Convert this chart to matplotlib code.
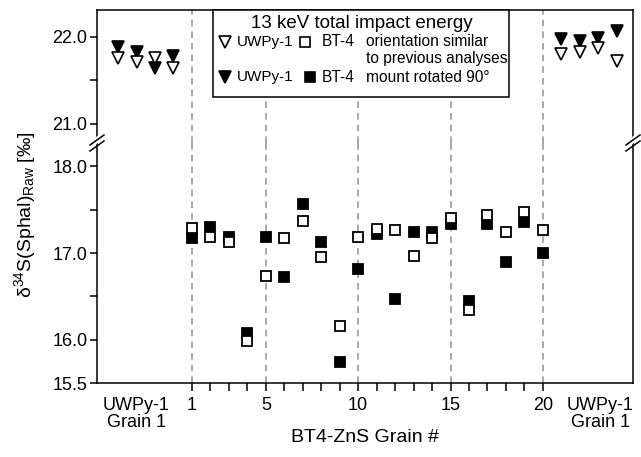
import matplotlib
matplotlib.use("Agg")
import matplotlib.pyplot as plt
from matplotlib.patches import Rectangle
from matplotlib.lines import Line2D

plt.rcParams['font.family'] = ['Liberation Sans', 'DejaVu Sans']
plt.rcParams['mathtext.fontset'] = 'custom'
plt.rcParams['mathtext.rm'] = 'Liberation Sans'
plt.rcParams['mathtext.it'] = 'Liberation Sans:italic'

# BT-4 sphalerite grains 1-20
grains = list(range(1, 21))
bt4_open = [17.29, 17.18, 17.13, 15.99, 16.73, 17.17, 17.37, 16.96, 16.16, 17.19,
            17.28, 17.27, 16.97, 17.17, 17.40, 16.34, 17.44, 17.24, 17.47, 17.27]
bt4_filled = [17.17, 17.30, 17.19, 16.08, 17.18, 16.72, 17.57, 17.13, 15.74, 16.81,
              17.22, 16.47, 17.24, 17.24, 17.34, 16.45, 17.33, 16.90, 17.36, 17.00]

# UWPy-1 grain 1 bracketing analyses
uwpy_x_left = [-3, -2, -1, 0]
uwpy_x_right = [21, 22, 23, 24]
uwpy_open_left = [21.76, 21.71, 21.76, 21.64]
uwpy_filled_left = [21.88, 21.82, 21.64, 21.78]
uwpy_open_right = [21.80, 21.82, 21.87, 21.72]
uwpy_filled_right = [21.98, 21.95, 21.99, 22.07]

divider_x = [1, 5, 10, 15, 20]
xtick_labels = ['1', '5', '10', '15', '20']

W, H = 641, 457
fig = plt.figure(figsize=(W / 100, H / 100), dpi=100)


def fx(x):
    return x / W


def fy(y):
    return 1 - y / H


L, R, T, B, BRK = 97, 633, 10, 383, 143
ax_top = fig.add_axes([fx(L), fy(BRK), fx(R) - fx(L), fy(T) - fy(BRK)])
ax_bot = fig.add_axes([fx(L), fy(B), fx(R) - fx(L), fy(BRK) - fy(B)])

xlim = (-4.14, 24.88)
for ax in (ax_top, ax_bot):
    ax.set_xlim(*xlim)
    for x in divider_x:
        ax.axvline(x, color='#9a9a9a', lw=1.2, ls=(0, (4, 3)), zorder=1)
    for s in ax.spines.values():
        s.set_linewidth(1.1)
    ax.tick_params(axis='y', direction='out', length=5, width=1.1, labelsize=13, pad=2)

ax_top.set_ylim(20.775, 22.31)
ax_bot.set_ylim(15.5, 18.27)
ax_top.spines['bottom'].set_visible(False)
ax_bot.spines['top'].set_visible(False)
ax_top.tick_params(axis='x', bottom=False, labelbottom=False)

ax_top.set_yticks([21.0, 21.5, 22.0])
ax_top.set_yticklabels(['21.0', '', '22.0'])
ax_bot.set_yticks([15.5, 16.0, 16.5, 17.0, 17.5, 18.0])
ax_bot.set_yticklabels(['15.5', '16.0', '', '17.0', '', '18.0'])

ax_bot.set_xticks(grains)
ax_bot.set_xticklabels([str(g) if str(g) in xtick_labels else '' for g in grains])
ax_bot.tick_params(axis='x', direction='out', length=6, width=1.1, labelsize=13, pad=4)

sq = dict(marker='s', ms=7, mew=1.3, ls='none', mec='black')
tri = dict(marker='v', ms=9, mew=1.2, ls='none', mec='black')

ax_bot.plot(grains, bt4_filled, mfc='black', zorder=3, **sq)
ax_bot.plot(grains, bt4_open, mfc='white', zorder=4, **sq)
ax_top.plot(uwpy_x_left, uwpy_filled_left, mfc='black', zorder=3, **tri)
ax_top.plot(uwpy_x_right, uwpy_filled_right, mfc='black', zorder=3, **tri)
ax_top.plot(uwpy_x_left, uwpy_open_left, mfc='white', zorder=4, **tri)
ax_top.plot(uwpy_x_right, uwpy_open_right, mfc='white', zorder=4, **tri)

# legend box
ax_top.add_patch(Rectangle((fx(213), fy(97)), fx(509) - fx(213), fy(10) - fy(97),
                           transform=fig.transFigure, facecolor='white',
                           edgecolor='black', lw=1.1, zorder=10, clip_on=False))
fig.text(fx(362), fy(23), '13 keV total impact energy', ha='center', va='center',
         fontsize=13.5, zorder=11)
for yrow, mfc, txt, sx in [(42, 'white', 'orientation similar', 305),
                           (77, 'black', 'mount rotated 90°', 310)]:
    ax_top.add_line(Line2D([fx(225)], [fy(yrow)], transform=fig.transFigure, marker='v',
                           ms=8.5, mew=1.2, mec='black', mfc=mfc, zorder=11, clip_on=False))
    fig.text(fx(237), fy(yrow), 'UWPy-1', ha='left', va='center', fontsize=11)
    ax_top.add_line(Line2D([fx(sx)], [fy(yrow)], transform=fig.transFigure, marker='s',
                           ms=6.5, mew=1.2, mec='black', mfc=mfc, zorder=11, clip_on=False))
    fig.text(fx(355), fy(yrow), 'BT-4', ha='right', va='center', fontsize=11.2)
    fig.text(fx(366), fy(yrow), txt, ha='left', va='center', fontsize=11.2)
fig.text(fx(366), fy(59), 'to previous analyses', ha='left', va='center', fontsize=11.2)

# axis break marks
for xs in (L, R):
    fig.add_artist(Line2D([fx(xs - 5), fx(xs + 5)], [fy(BRK + 1), fy(BRK - 7)],
                          color='white', lw=4, transform=fig.transFigure))
    for dy in (-3, 3):
        fig.add_artist(Line2D([fx(xs - 7), fx(xs + 7)], [fy(BRK + dy + 5), fy(BRK + dy - 5)],
                              color='black', lw=1.1, transform=fig.transFigure))

# x labels
ax_bot.text(-2.0, -0.06, 'UWPy-1\nGrain 1', transform=ax_bot.get_xaxis_transform(),
            ha='center', va='top', fontsize=13, linespacing=1.0)
ax_bot.text(23.1, -0.06, 'UWPy-1\nGrain 1', transform=ax_bot.get_xaxis_transform(),
            ha='center', va='top', fontsize=13, linespacing=1.0)
fig.text(fx(365), fy(437), 'BT4-ZnS Grain #', ha='center', va='center', fontsize=14)
fig.text(fx(25), fy(215), 'δ$^{34}$S(Sphal)$_{\\mathrm{Raw}}$ [‰]', rotation=90,
         ha='center', va='center', fontsize=14)

fig.savefig('out.png', dpi=100)
